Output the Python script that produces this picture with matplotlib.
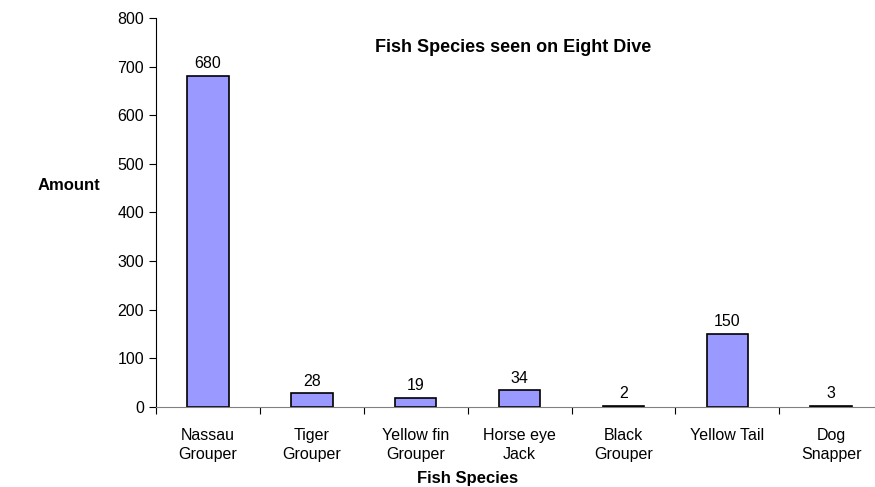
import matplotlib
matplotlib.use("Agg")
import matplotlib.pyplot as plt
import numpy as np

species = ["Nassau\nGrouper", "Tiger\nGrouper", "Yellow fin\nGrouper", "Horse eye\nJack",
           "Black\nGrouper", "Yellow Tail", "Dog\nSnapper"]
amounts = [680, 28, 19, 34, 2, 150, 3]

plt.rcParams['font.family'] = ['Liberation Sans', 'DejaVu Sans']

fig = plt.figure(figsize=(8.75, 4.87), dpi=100)
ax = fig.add_axes([0.1783, 0.1643, 0.831, 0.799])

x = np.arange(len(species))
bars = ax.bar(x, amounts, width=0.4, color='#9999FF', edgecolor='black', linewidth=1.2)
for xi, v in zip(x, amounts):
    ax.text(xi, v + 10, str(v), ha='center', va='bottom', fontsize=11.5)

ax.set_xlim(-0.5, len(species) - 0.5)
ax.set_ylim(0, 800)
ax.set_yticks(range(0, 801, 100))
ax.tick_params(axis='y', labelsize=11.5, length=5, direction='out')

# ticks between categories, labels at centres
ax.set_xticks(np.arange(-0.5, len(species), 1.0))
ax.set_xticklabels([])
ax.set_xticks(x, minor=True)
ax.set_xticklabels(species, minor=True, fontsize=11.5, linespacing=1.35)
ax.tick_params(axis='x', which='minor', length=0, pad=15)
ax.tick_params(axis='x', which='major', length=5, color='black')

ax.spines['top'].set_visible(False)
ax.spines['right'].set_visible(False)
ax.spines['bottom'].set_color('#808080')

fig.text(513 / 875, 1 - 48 / 487, "Fish Species seen on Eight Dive",
         ha='center', va='center', fontsize=13, fontweight='bold')
fig.text(69 / 875, 1 - 186 / 487, "Amount", ha='center', va='center',
         fontsize=12, fontweight='bold')
fig.text(468 / 875, 1 - 478 / 487, "Fish Species", ha='center', va='center',
         fontsize=12, fontweight='bold')

fig.savefig("out.png", dpi=100)
